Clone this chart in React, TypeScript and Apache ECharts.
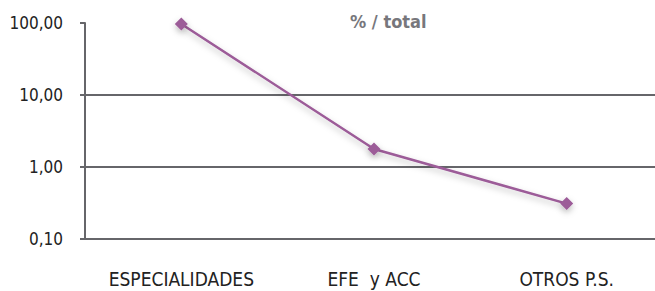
import React, { useEffect, useRef } from "react";
import * as echarts from "echarts";

const categories = ["ESPECIALIDADES", "EFE  y ACC", "OTROS P.S."];
const values = [97, 1.78, 0.31];
const titleText = "% / total";

const FONT = "'DejaVu Sans Condensed', 'Liberation Sans Narrow', sans-serif";

export default function App() {
  const ref = useRef<HTMLDivElement>(null);
  useEffect(() => {
    const chart = echarts.init(ref.current!, null, { renderer: "svg" });
    chart.setOption({
      animation: false,
      backgroundColor: "#ffffff",
      title: {
        text: titleText,
        left: 345,
        top: 7,
        textStyle: { fontFamily: FONT, fontSize: 18, fontWeight: "bold", color: "#77777c" },
      },
      grid: {
        left: 85,
        top: 23,
        width: 578,
        height: 216,
        containLabel: false,
        outerBoundsMode: "none",
      },
      xAxis: {
        type: "category",
        data: categories,
        boundaryGap: true,
        axisLine: { show: true, lineStyle: { color: "#66666a", width: 2 } },
        axisTick: { show: false },
        axisLabel: { fontFamily: FONT, fontSize: 19, color: "#222", margin: 30 },
      },
      yAxis: {
        type: "log",
        logBase: 10,
        min: 0.1,
        max: 100,
        axisLine: { show: true, lineStyle: { color: "#66666a", width: 2 } },
        axisTick: { show: true, length: 5, lineStyle: { color: "#66666a", width: 2 } },
        axisLabel: {
          fontFamily: FONT,
          fontSize: 17,
          color: "#222",
          margin: 22,
          formatter: (v: number) => v.toFixed(2).replace(".", ","),
        },
        splitLine: {
          show: true,
          lineStyle: { color: ["#66666a", "#66666a", "#66666a", "rgba(0,0,0,0)"], width: 2 },
        },
      },
      series: [
        {
          type: "line",
          data: values,
          symbol: "diamond",
          symbolSize: 13,
          lineStyle: {
            color: "#9c5b98",
            width: 2.5,
            shadowBlur: 6,
            shadowColor: "rgba(0,0,0,0.25)",
            shadowOffsetY: 3,
          },
          itemStyle: {
            color: "#9c5b98",
            shadowBlur: 6,
            shadowColor: "rgba(0,0,0,0.25)",
            shadowOffsetY: 3,
          },
        },
      ],
    });
    return () => chart.dispose();
  }, []);
  return <div ref={ref} style={{ width: 655, height: 291, position: "absolute", left: 0, top: 0 }} />;
}
